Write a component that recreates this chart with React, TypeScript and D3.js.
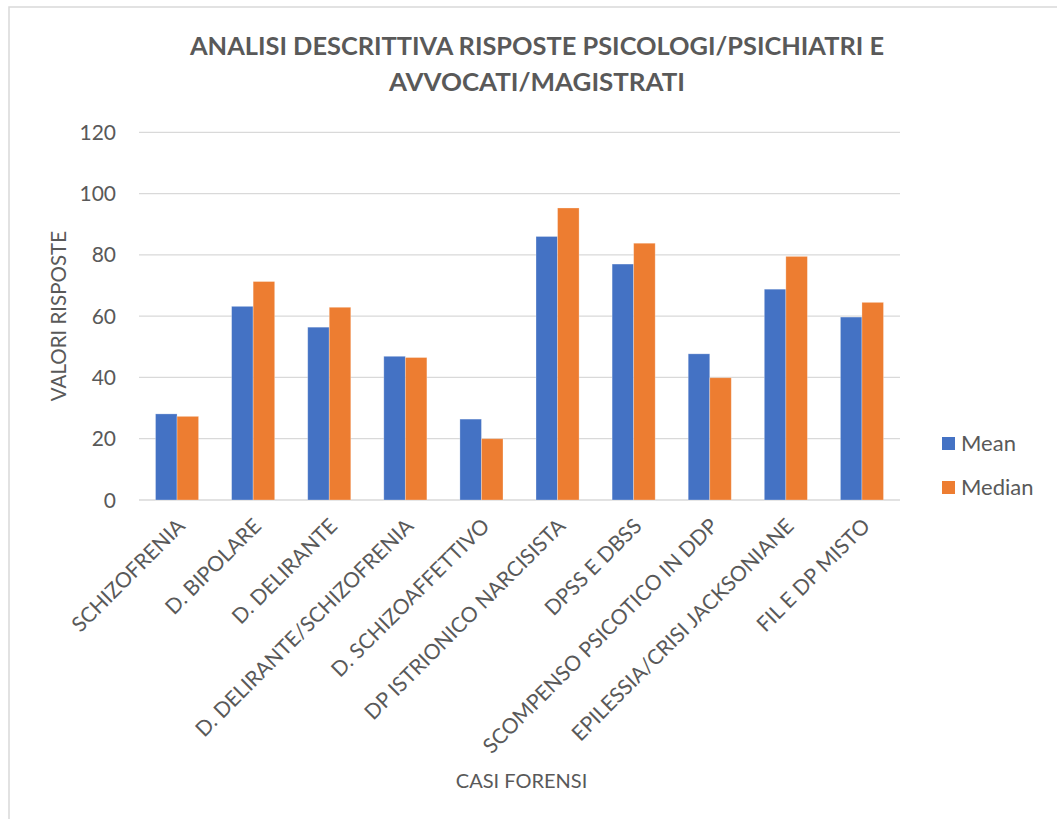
import React from "react";
import * as d3 from "d3";

const categories = [
  "SCHIZOFRENIA",
  "D. BIPOLARE",
  "D. DELIRANTE",
  "D. DELIRANTE/SCHIZOFRENIA",
  "D. SCHIZOAFFETTIVO",
  "DP ISTRIONICO NARCISISTA",
  "DPSS E DBSS",
  "SCOMPENSO PSICOTICO IN DDP",
  "EPILESSIA/CRISI JACKSONIANE",
  "FIL E DP MISTO",
];
const meanValues = [28.1, 63.2, 56.4, 46.9, 26.4, 86.0, 77.0, 47.7, 68.8, 59.7];
const medianValues = [27.3, 71.3, 62.9, 46.5, 20.0, 95.3, 83.8, 39.9, 79.5, 64.5];
const seriesNames = ["Mean", "Median"];
const seriesColors = ["#4472C4", "#ED7D31"];
const yTicks = [0, 20, 40, 60, 80, 100, 120];
const titleLines = ["ANALISI DESCRITTIVA RISPOSTE PSICOLOGI/PSICHIATRI E", "AVVOCATI/MAGISTRATI"];

const W = 1057;
const H = 819;
const FONT = "Lato, 'Open Sans', sans-serif";
const TEXT = "#595959";

export default function App() {
  const plot = { left: 139, right: 900, top: 132.3, bottom: 500 };
  const x = d3
    .scaleBand<string>()
    .domain(categories)
    .range([plot.left, plot.right])
    .paddingInner(0.434)
    .paddingOuter(0.217);
  const xs = d3.scaleBand<string>().domain(seriesNames).range([0, x.bandwidth()]);
  const y = d3.scaleLinear().domain([0, 120]).range([plot.bottom, plot.top]);
  const series = [meanValues, medianValues];

  return (
    <svg
      width={W}
      height={H}
      style={{ position: "absolute", left: 0, top: 0, background: "#fff" }}
      fontFamily={FONT}
    >
      <rect x={9} y={7} width={W + 20} height={H + 20} fill="#fff" stroke="#d9d9d9" strokeWidth={1.5} />

      {titleLines.map((t, i) => (
        <text
          key={t}
          x={537}
          y={55 + i * 36}
          textAnchor="middle"
          fontWeight={700}
          fontSize={24}
          fill={TEXT}
          textLength={i === 0 ? 694 : 296}
          lengthAdjust="spacingAndGlyphs"
        >
          {t}
        </text>
      ))}

      {yTicks.map((t) => (
        <g key={t}>
          <line x1={plot.left} x2={plot.right} y1={y(t)} y2={y(t)} stroke="#d9d9d9" strokeWidth={1.3} />
          <text x={116} y={y(t)} dy="0.36em" textAnchor="end" fontSize={21} fill={TEXT}>
            {t}
          </text>
        </g>
      ))}

      {series.map((vals, si) =>
        vals.map((v, ci) => (
          <rect
            key={`${si}-${ci}`}
            x={(x(categories[ci]) ?? 0) + (xs(seriesNames[si]) ?? 0)}
            y={y(v)}
            width={xs.bandwidth()}
            height={y(0) - y(v)}
            fill={seriesColors[si]}
            stroke="#ffffff"
            strokeOpacity={0.35}
            strokeWidth={0.8}
          />
        ))
      )}

      {categories.map((c) => {
        const cx = (x(c) ?? 0) + x.bandwidth() / 2 + 4;
        const cy = 522;
        return (
          <text
            key={c}
            x={cx}
            y={cy}
            dy="0.36em"
            textAnchor="end"
            fontSize={21}
            fill={TEXT}
            transform={`rotate(-45 ${cx} ${cy})`}
          >
            {c}
          </text>
        );
      })}

      <text
        transform={`translate(66, ${(plot.top + plot.bottom) / 2}) rotate(-90)`}
        textAnchor="middle"
        fontSize={20.5}
        fill={TEXT}
      >
        VALORI RISPOSTE
      </text>

      <text x={(plot.left + plot.right) / 2 + 2} y={788} textAnchor="middle" fontSize={20} fill={TEXT}>
        CASI FORENSI
      </text>

      {seriesNames.map((s, i) => (
        <g key={s} transform={`translate(942, ${437 + i * 44})`}>
          <rect width={13} height={13} fill={seriesColors[i]} />
          <text x={19} y={6.5} dy="0.36em" fontSize={22} fill={TEXT}>
            {s}
          </text>
        </g>
      ))}
    </svg>
  );
}
